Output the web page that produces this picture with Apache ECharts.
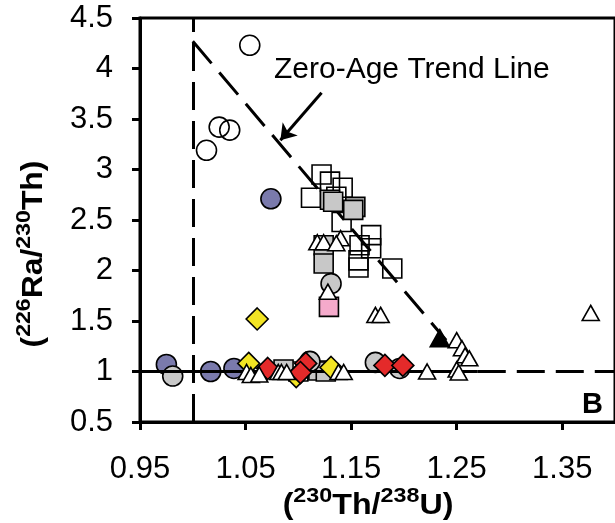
<!DOCTYPE html>
<html>
<head>
<meta charset="utf-8">
<script src="https://cdn.jsdelivr.net/npm/echarts@6/dist/echarts.min.js"></script>
<style>
  html, body { margin: 0; padding: 0; background: #fff; }
  #chart { width: 615px; height: 523px; }
</style>
</head>
<body>
<div id="chart"></div>
<script>
// (230Th/238U) vs (226Ra/230Th) activity ratios, by sample group
const xTicks = [0.95, 1.05, 1.15, 1.25, 1.35];
const yTicks = [0.5, 1, 1.5, 2, 2.5, 3, 3.5, 4, 4.5];

const openCircles = [[1.013, 3.19], [1.025, 3.42], [1.035, 3.39], [1.054, 4.23]];
const blueCircles = [[0.975, 1.07], [1.017, 1.0], [1.039, 1.03], [1.074, 2.71]];
const grayCircles = [[0.981, 0.955], [1.131, 1.87], [1.111, 1.1], [1.173, 1.09], [1.196, 1.03]];
const openSquares = [
  [1.122, 2.95], [1.130, 2.88], [1.142, 2.82], [1.112, 2.72], [1.136, 2.73],
  [1.141, 2.48], [1.169, 2.35], [1.158, 2.25], [1.169, 2.22], [1.157, 2.10],
  [1.157, 2.03], [1.189, 2.02], [1.100, 1.0]
];
const graySquares = [
  [1.130, 2.70], [1.133, 2.68], [1.154, 2.63], [1.152, 2.60], [1.124, 2.25],
  [1.124, 2.07], [1.086, 1.02], [1.119, 1.01], [1.126, 1.0]
];
const pinkSquares = [[1.129, 1.64]];
const yellowDiamonds = [[1.061, 1.52], [1.053, 1.08], [1.131, 1.04], [1.098, 0.95]];
const redDiamonds = [[1.071, 1.03], [1.107, 1.08], [1.102, 0.99], [1.182, 1.06], [1.199, 1.06]];
const openTriangles = [
  [1.118, 2.28], [1.124, 2.28], [1.140, 2.32], [1.136, 2.27], [1.128, 1.79],
  [1.173, 1.56], [1.178, 1.56], [1.377, 1.58], [1.250, 1.31], [1.255, 1.23],
  [1.258, 1.16], [1.262, 1.13], [1.222, 1.0], [1.250, 1.02], [1.252, 0.99],
  [1.138, 0.995], [1.143, 0.995], [1.051, 0.995], [1.055, 0.965], [1.063, 0.97],
  [1.081, 0.995], [1.084, 0.995], [1.089, 0.995]
];
const filledTriangles = [[1.234, 1.33]];

// reference lines
const trendLine = [[1.0, 4.27], [1.24, 1.31]];
const equilibriumX = 1.0;
const equilibriumY = 1.0;
const solidEnd = 1.27;
const arrowFrom = [1.122, 3.76];
const arrowTo = [1.083, 3.29];

const FONT = '"Liberation Sans", Arial, Helvetica, sans-serif';

const titleRich = {
  b: { fontSize: 29, fontWeight: 'bold', fontFamily: FONT, fill: '#000', lineHeight: 34, verticalAlign: 'bottom' },
  s: { fontSize: 21, fontWeight: 'bold', fontFamily: FONT, fill: '#000', lineHeight: 34, verticalAlign: 'top', padding: [0, 0, 10, 0] }
};

function scatter(name, data, symbol, size, fill, z) {
  return {
    name, type: 'scatter', data, symbol, symbolSize: size, z: z,
    itemStyle: { color: fill, borderColor: '#000', borderWidth: 1.6, opacity: 1 },
    emphasis: { disabled: true }
  };
}

const chart = echarts.init(document.getElementById('chart'), null, { renderer: 'canvas' });

chart.setOption({
  animation: false,
  backgroundColor: '#fff',
  grid: { left: 140, top: 18, width: 479, height: 404, show: true, borderColor: '#000', borderWidth: 3, backgroundColor: 'transparent' },
  xAxis: {
    type: 'value', min: xTicks[0], max: 1.4, interval: 0.1,
    axisLine: { show: true, lineStyle: { color: '#000', width: 3 } },
    axisTick: { show: true, length: 8, lineStyle: { color: '#000', width: 3 } },
    splitLine: { show: false },
    axisLabel: {
      color: '#000', fontSize: 31, fontFamily: FONT, margin: 32, showMaxLabel: false,
      formatter: v => v.toFixed(2)
    }
  },
  yAxis: {
    type: 'value', min: yTicks[0], max: yTicks[yTicks.length - 1], interval: 0.5,
    axisLine: { show: true, lineStyle: { color: '#000', width: 3 } },
    axisTick: { show: true, length: 8, lineStyle: { color: '#000', width: 3 } },
    splitLine: { show: false },
    axisLabel: { color: '#000', fontSize: 31, fontFamily: FONT, margin: 27 }
  },
  series: [
    {
      name: 'Equilibrium', type: 'line', data: [], z: 1,
      markLine: {
        silent: true, symbol: 'none', animation: false,
        label: { show: false },
        lineStyle: { color: '#000', width: 3, type: [28, 11] },
        data: [
          [{ coord: [equilibriumX, yTicks[0]] }, { coord: [equilibriumX, yTicks[yTicks.length - 1]] }],
          [{ coord: [solidEnd, equilibriumY] }, { coord: [1.4, equilibriumY] }],
          [{ coord: [xTicks[0], equilibriumY], lineStyle: { type: 'solid' } }, { coord: [solidEnd, equilibriumY], lineStyle: { type: 'solid' } }]
        ]
      }
    },
    {
      name: 'Zero-Age Trend Line', type: 'line', data: trendLine, z: 1,
      symbol: 'none', lineStyle: { color: '#000', width: 3, type: [29, 12] },
      emphasis: { disabled: true },
      markLine: {
        silent: true, symbol: ['none', 'arrow'], symbolSize: 15, animation: false,
        label: { show: false },
        lineStyle: { color: '#000', width: 3, type: 'solid' },
        data: [[{ coord: arrowFrom }, { coord: arrowTo }]]
      }
    },
    scatter('openCircles', openCircles, 'circle', 20, 'transparent', 3),
    scatter('openSquares', openSquares, 'rect', 19, 'transparent', 3),
    scatter('graySquares', graySquares, 'rect', 19, '#c8c8c8', 3),
    scatter('pinkSquares', pinkSquares, 'rect', 19, '#f5aacb', 3),
    scatter('blueCircles', blueCircles, 'circle', 20, '#7a7aac', 4),
    scatter('grayCircles', grayCircles, 'circle', 20, '#c8c8c8', 4),
    scatter('yellowDiamonds', yellowDiamonds, 'diamond', 22, '#f2e424', 5),
    scatter('redDiamonds', redDiamonds, 'diamond', 22, '#e42a2a', 5),
    scatter('openTriangles', openTriangles, 'triangle', [17, 15], '#ffffff', 6),
    scatter('filledTriangles', filledTriangles, 'triangle', [19, 17], '#000000', 6)
  ],
  graphic: [
    {
      type: 'text', x: 368, y: 503, scaleX: 1.11, z: 100,
      style: {
        text: '{b|(}{s|230}{b|Th/}{s|238}{b|U)}', rich: titleRich,
        align: 'center', verticalAlign: 'middle', fontFamily: FONT
      }
    },
    {
      type: 'text', x: 31, y: 254, rotation: Math.PI / 2, scaleX: 1.1, z: 100,
      style: {
        text: '{b|(}{s|226}{b|Ra/}{s|230}{b|Th)}', rich: titleRich,
        align: 'center', verticalAlign: 'middle', fontFamily: FONT
      }
    },
    {
      type: 'text', left: 274, top: 55, z: 100,
      style: { text: 'Zero-Age Trend Line', fontSize: 30, fontFamily: FONT, fill: '#000' }
    },
    {
      type: 'text', right: 12, top: 390, z: 100,
      style: { text: 'B', fontSize: 29, fontWeight: 'bold', fontFamily: FONT, fill: '#000' }
    }
  ]
});
</script>
</body>
</html>
